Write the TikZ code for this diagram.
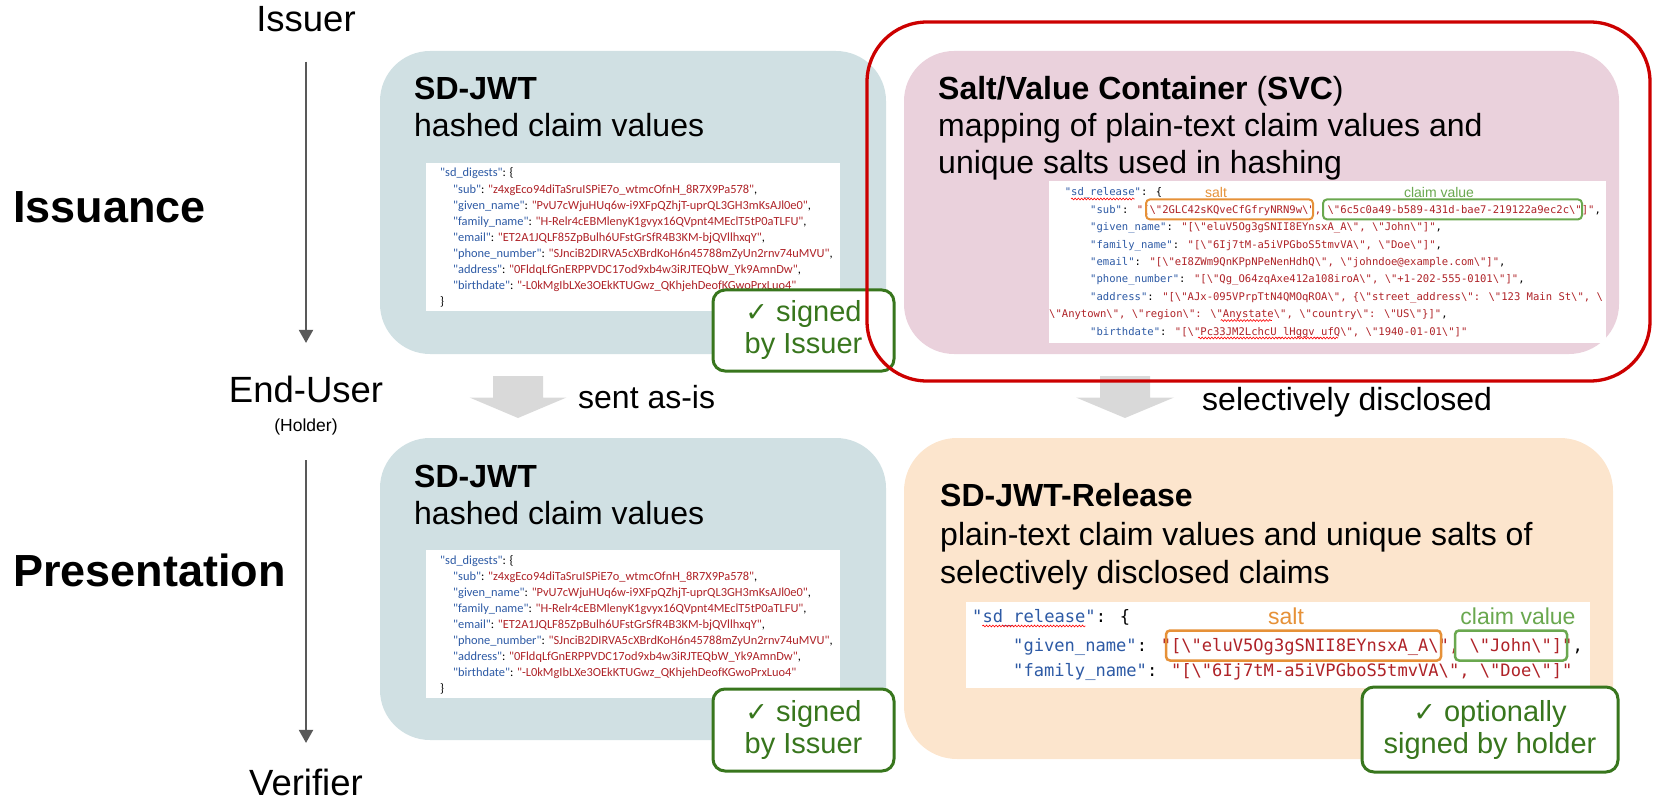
\documentclass[tikz,border=0pt]{standalone}
\usepackage{fontspec}
\setmainfont{Liberation Sans}
\newfontfamily\codefont{Carlito}[Ligatures=TeXOff]
\newfontfamily\monofont{DejaVu Sans Mono}[Ligatures=TeXOff]
\newfontfamily\symfont{DejaVu Sans}
\usetikzlibrary{arrows.meta,decorations.pathmorphing}

\definecolor{tealfill}{HTML}{D0E0E3}
\definecolor{pinkfill}{HTML}{EAD1DC}
\definecolor{peachfill}{HTML}{FCE5CD}
\definecolor{framered}{HTML}{CC0000}
\definecolor{signgreen}{HTML}{38761D}
\definecolor{saltorange}{HTML}{E69138}
\definecolor{claimgreen}{HTML}{6AA84F}
\definecolor{arrowgray}{HTML}{D9D9D9}
\definecolor{flowgray}{HTML}{595959}
\definecolor{codekey}{RGB}{45,90,165}
\definecolor{codeval}{RGB}{175,35,40}

\newcommand\ky[1]{\textcolor{codekey}{#1}}
\newcommand\vl[1]{\textcolor{codeval}{#1}}
\newcommand\bs{\textbackslash}
\newcommand\tick{{\symfont\fontsize{27}{32}\selectfont ✓}}

% hashed-claims listing, #1 = name prefix, #2 = vertical offset
\newcommand\digestblock[2]{%
  \node[codebg, minimum width=414pt, minimum height=148pt] (#1) at (633,{237+#2}) {};
  \node[codeline] (#1-0) at (440,{177+#2}) {\ky{"sd\_digests"}: \{};
  \node[codeline] (#1-1) at (453,{193.1+#2}) {\ky{"sub"}: \vl{"z4xgEco94diTaSruISPiE7o\_wtmcOfnH\_8R7X9Pa578"},};
  \node[codeline] (#1-2) at (453,{209.2+#2}) {\ky{"given\_name"}: \vl{"PvU7cWjuHUq6w-i9XFpQZhjT-uprQL3GH3mKsAJl0e0"},};
  \node[codeline] (#1-3) at (453,{225.3+#2}) {\ky{"family\_name"}: \vl{"H-Relr4cEBMlenyK1gvyx16QVpnt4MEclT5tP0aTLFU"},};
  \node[codeline] (#1-4) at (453,{241.4+#2}) {\ky{"email"}: \vl{"ET2A1JQLF85ZpBulh6UFstGrSfR4B3KM-bjQVllhxqY"},};
  \node[codeline] (#1-5) at (453,{257.5+#2}) {\ky{"phone\_number"}: \vl{"SJnciB2DIRVA5cXBrdKoH6n45788mZyUn2rnv74uMVU"},};
  \node[codeline] (#1-6) at (453,{273.6+#2}) {\ky{"address"}: \vl{"0FldqLfGnERPPVDC17od9xb4w3iRJTEQbW\_Yk9AmnDw"},};
  \node[codeline] (#1-7) at (453,{289.7+#2}) {\ky{"birthdate"}: \vl{"-L0kMgIbLXe3OEkKTUGwz\_QKhjehDeofKGwoPrxLuo4"}};
  \node[codeline] (#1-8) at (440,{305.8+#2}) {\}};
}

\begin{document}
\begin{tikzpicture}[x=1pt,y=-1pt,
  panel/.style={inner sep=0pt, outer sep=0pt, rounded corners=50pt},
  codebg/.style={fill=white, inner sep=0pt},
  codeline/.style={anchor=base west, inner sep=0pt, font=\codefont\fontsize{12.4}{14}\selectfont},
  monoS/.style={anchor=base west, inner sep=0pt, font=\monofont\fontsize{10.56}{12}\selectfont},
  monoR/.style={anchor=base west, inner sep=0pt, font=\monofont\fontsize{17.1}{20}\selectfont},
  heading/.style={anchor=base west, inner sep=0pt, font=\fontsize{32}{38}\selectfont},
  signbox/.style={draw=signgreen, line width=3pt, fill=white, rounded corners=12pt,
    text=signgreen, align=center, inner sep=0pt, font=\fontsize{29}{32}\selectfont},
  saltbox/.style={draw=saltorange, line width=2pt, rounded corners=4pt, inner sep=0pt},
  claimbox/.style={draw=claimgreen, line width=2pt, rounded corners=4pt, inner sep=0pt},
  role/.style={anchor=base, inner sep=0pt, font=\fontsize{36.5}{40}\selectfont},
  phase/.style={anchor=base west, inner sep=0pt, font=\bfseries\fontsize{45}{50}\selectfont},
  flow/.style={draw=flowgray, line width=2pt, -{Triangle[width=14pt,length=13pt]}},
  squiggle/.style={draw=red, line width=0.6pt, decorate,
    decoration={snake, amplitude=0.9pt, segment length=3.2pt}},
  sendarrow/.style={fill=arrowgray}
]
\useasboundingbox (0,0) rectangle (1657,802);

% ---------- panels ----------
\node[panel, fill=tealfill, minimum width=506pt, minimum height=303pt] (jwtA) at (633,202.5) {};
\node[panel, fill=pinkfill, minimum width=715pt, minimum height=303pt] (svc) at (1261.5,202.5) {};
\node[panel, fill=tealfill, minimum width=506pt, minimum height=302pt] (jwtB) at (633,589) {};
\node[panel, fill=peachfill, minimum width=709pt, minimum height=321pt, rounded corners=53pt] (rel) at (1258.5,598.5) {};

% ---------- panel headings ----------
\node[heading] (jwtA-t) at (414,100) {\textbf{SD-JWT}};
\node[heading] (jwtA-d) at (414,137) {hashed claim values};
\node[heading] (svc-t) at (938,100) {\textbf{Salt/Value Container} (\textbf{SVC})};
\node[heading] (svc-d1) at (938,137) {mapping of plain-text claim values and};
\node[heading] (svc-d2) at (938,174) {unique salts used in hashing};
\node[heading] (jwtB-t) at (414,487) {\textbf{SD-JWT}};
\node[heading] (jwtB-d) at (414,524) {hashed claim values};
\node[heading] (rel-t) at (940,506) {\textbf{SD-JWT-Release}};
\node[heading] (rel-d1) at (940,545) {plain-text claim values and unique salts of};
\node[heading] (rel-d2) at (940,583) {selectively disclosed claims};

% ---------- hashed claim listings ----------
\digestblock{codeA}{0}
\digestblock{codeB}{387}

% ---------- salt/value listing ----------
\node[codebg, minimum width=557pt, minimum height=162pt] (codeS) at (1327.5,262) {};
\node[monoS] (s0) at (1064.6,196) {\ky{"sd\_release"}: \{};
\node[monoS] (s1) at (1090,213.4) {\ky{"sub"}: \vl{"[\bs"2GLC42sKQveCfGfryNRN9w\bs", \bs"6c5c0a49-b589-431d-bae7-219122a9ec2c\bs"]"},};
\node[monoS] (s2) at (1090,230.8) {\ky{"given\_name"}: \vl{"[\bs"eluV5Og3gSNII8EYnsxA\_A\bs", \bs"John\bs"]"},};
\node[monoS] (s3) at (1090,248.2) {\ky{"family\_name"}: \vl{"[\bs"6Ij7tM-a5iVPGboS5tmvVA\bs", \bs"Doe\bs"]"},};
\node[monoS] (s4) at (1090,265.6) {\ky{"email"}: \vl{"[\bs"eI8ZWm9QnKPpNPeNenHdhQ\bs", \bs"johndoe@example.com\bs"]"},};
\node[monoS] (s5) at (1090,283) {\ky{"phone\_number"}: \vl{"[\bs"Qg\_O64zqAxe412a108iroA\bs", \bs"+1-202-555-0101\bs"]"},};
\node[monoS] (s6) at (1090,300.4) {\ky{"address"}: \vl{"[\bs"AJx-095VPrpTtN4QMOqROA\bs", \{\bs"street\_address\bs": \bs"123 Main St\bs", \bs}};
\node[monoS] (s7) at (1049,317.8) {\vl{\bs"Anytown\bs", \bs"region\bs": \bs"Anystate\bs", \bs"country\bs": \bs"US\bs"\}]"},};
\node[monoS] (s8) at (1090,335.2) {\ky{"birthdate"}: \vl{"[\bs"Pc33JM2LchcU\_lHggv\_ufQ\bs", \bs"1940-01-01\bs"]"}};
\draw[squiggle] (1071,199) -- (1134.6,199);
\draw[squiggle] (1220.7,320.5) -- (1271.9,320.5);
\draw[squiggle] (1198,338) -- (1338,338);
\node[saltbox, minimum width=167pt, minimum height=20pt] (s-salt) at (1229.5,209.4) {};
\node[claimbox, minimum width=259pt, minimum height=20pt] (s-claim) at (1452.5,209.4) {};
\node[text=saltorange, font=\fontsize{14}{16}\selectfont, inner sep=0pt] (s-salt-l) at (1216,192) {salt};
\node[text=claimgreen, font=\fontsize{14}{16}\selectfont, inner sep=0pt] (s-claim-l) at (1439,192) {claim value};

% ---------- release listing ----------
\node[codebg, minimum width=624pt, minimum height=86pt] (codeR) at (1278,645) {};
\node[monoR] (r0) at (972,622) {\ky{"sd\_release"}: \{};
\node[monoR] (r1) at (1013,651.5) {\ky{"given\_name"}: \vl{"[\bs"eluV5Og3gSNII8EYnsxA\_A\bs", \bs"John\bs"]"},};
\node[monoR] (r2) at (1013,676.5) {\ky{"family\_name"}: \vl{"[\bs"6Ij7tM-a5iVPGboS5tmvVA\bs", \bs"Doe\bs"]"}};
\draw[squiggle] (982.3,626) -- (1085.3,626);
\node[saltbox, minimum width=275pt, minimum height=30pt, line width=2.5pt] (r-salt) at (1303.5,645.5) {};
\node[claimbox, minimum width=112pt, minimum height=30pt, line width=2.5pt] (r-claim) at (1511,645.5) {};
\node[text=saltorange, font=\fontsize{23}{26}\selectfont, inner sep=0pt] (r-salt-l) at (1286,616) {salt};
\node[text=claimgreen, font=\fontsize{23}{26}\selectfont, inner sep=0pt] (r-claim-l) at (1518,616) {claim value};

% ---------- signature notes ----------
\node[signbox, minimum width=181pt, minimum height=81pt] (sigA) at (803.5,330.5)
  {\tick{} signed\\by Issuer};
\node[signbox, minimum width=181pt, minimum height=82pt] (sigB) at (803.5,730)
  {\tick{} signed\\by Issuer};
\node[signbox, minimum width=256pt, minimum height=85pt] (sigR) at (1490,729.5)
  {\tick{} optionally\\signed by holder};

% ---------- transfer arrows ----------
\coordinate (sendA) at (518,376);
\coordinate (sendB) at (1125,376);
\fill[sendarrow] (sendA) ++(-25,0) -- ++(50,0) -- ++(0,21.5) -- ++(23.5,0) -- ++(-48.5,20.5) -- ++(-48.5,-20.5) -- ++(23.5,0) -- cycle;
\fill[sendarrow] (sendB) ++(-25,0) -- ++(50,0) -- ++(0,21.5) -- ++(24,0) -- ++(-49,20.5) -- ++(-49,-20.5) -- ++(24,0) -- cycle;
\node[heading] (sent) at (578,408) {sent as-is};
\node[heading] (disc) at (1202,410) {selectively disclosed};

% ---------- highlighted container ----------
\node[draw=framered, line width=3.3pt, rounded corners=60pt, inner sep=0pt,
  minimum width=783pt, minimum height=359pt] (frame) at (1258.5,201.5) {};

% ---------- roles and phases ----------
\node[role] (issuer) at (306,32) {Issuer};
\node[role] (enduser) at (306,402) {End-User};
\node[anchor=base, inner sep=0pt, font=\fontsize{17.5}{20}\selectfont] (holder) at (306,431) {(Holder)};
\node[role] (verifier) at (306,795) {Verifier};
\draw[flow, shorten <=29pt, shorten >=32.4pt] (issuer.south) -- (enduser.north);
\draw[flow, shorten <=25.4pt, shorten >=25.4pt] (holder.south) -- (verifier.north);
\node[phase] (issuance) at (13,223) {Issuance};
\node[phase] (presentation) at (13,586) {Presentation};
\end{tikzpicture}
\end{document}
